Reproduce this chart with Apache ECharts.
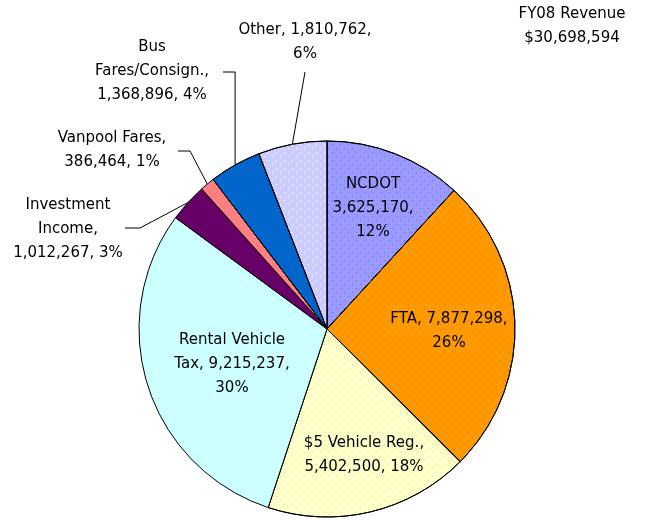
<!DOCTYPE html>
<html>
<head>
<meta charset="utf-8">
<script src="https://cdn.jsdelivr.net/npm/echarts@6/dist/echarts.min.js"></script>
<style>
html,body{margin:0;padding:0;background:#fff;}
#chart{width:660px;height:520px;}
</style>
</head>
<body>
<div id="chart"></div>
<script>
// ---- data ----
const categories = ['NCDOT', 'FTA', '$5 Vehicle Reg.', 'Rental Vehicle Tax', 'Investment Income', 'Vanpool Fares', 'Bus Fares/Consign.', 'Other'];
const values = [3625170, 7877298, 5402500, 9215237, 1012267, 386464, 1368896, 1810762];
const labelHeads = ['NCDOT\n', 'FTA, ', '$5 Vehicle Reg.,\n', 'Rental Vehicle\nTax, ', 'Investment\nIncome,\n', 'Vanpool Fares,\n', 'Bus\nFares/Consign.,\n', 'Other, '];
const labelSeps = [',\n', ',\n', ', ', ',\n', ', ', ', ', ', ', ',\n'];
const titleLines = ['FY08 Revenue', '$30,698,594'];

// ---- style ----
const colors = ['#9999FF', '#FF9900', '#FFFFCC', '#CCFFFF', '#660066', '#FF8080', '#0066CC', '#CCCCFF'];
const dotColors = ['#7070DD', '#E88A00', '#CCFF66', null, null, null, '#1D4F9A', '#FFFFFF'];
const outside = [false, false, false, false, true, true, true, true];
const labelPos = [[373, 208], [449, 331], [364, 455], [232, 364], [68, 229], [112, 150], [152, 71], [305, 42]];
// leader-line elbow / end points (label side), index by data
const leaderEnds = {4: [[140, 228], [125, 228]], 5: [[190, 151], [178, 151]], 6: [[null, 72], [223, 72]], 7: [[305, 72], [305, 72]]};

const CENTER = [327, 329], RADIUS = 188;
const fmt = v => v.toString().replace(/\B(?=(\d{3})+(?!\d))/g, ',');
const FONT = 'DejaVu Sans';
const total = values.reduce((a, b) => a + b, 0);

function edgePoint(i) {
  let cum = 0;
  for (let k = 0; k < i; k++) cum += values[k];
  const mid = (cum + values[i] / 2) / total * Math.PI * 2;
  return [CENTER[0] + RADIUS * Math.sin(mid), CENTER[1] - RADIUS * Math.cos(mid)];
}

const chart = echarts.init(document.getElementById('chart'), null, {renderer: 'canvas'});
chart.setOption({
  animation: false,
  backgroundColor: '#fff',
  title: {
    text: titleLines.join('\n'),
    left: 572, top: 2, padding: 0,
    textAlign: 'center',
    textStyle: {fontFamily: FONT, fontSize: 15, fontWeight: 'normal', color: '#000', lineHeight: 24}
  },
  series: [{
    type: 'pie',
    center: CENTER,
    radius: RADIUS,
    startAngle: 90,
    clockwise: true,
    avoidLabelOverlap: false,
    itemStyle: {borderColor: '#000', borderWidth: 1},
    label: {
      fontFamily: FONT, fontSize: 15, color: '#000', lineHeight: 24, align: 'center',
      formatter: p => labelHeads[p.dataIndex] + fmt(p.value) + labelSeps[p.dataIndex] + Math.round(p.percent) + '%'
    },
    labelLine: {lineStyle: {color: '#000', width: 1}},
    labelLayout: p => {
      const i = p.dataIndex;
      const out = {x: labelPos[i][0], y: labelPos[i][1], align: 'center', verticalAlign: 'middle'};
      if (leaderEnds[i]) {
        const p0 = (p.labelLinePoints && p.labelLinePoints[0]) ? p.labelLinePoints[0] : edgePoint(i);
        const e = leaderEnds[i];
        out.labelLinePoints = [[p0[0], p0[1]], [e[0][0] == null ? p0[0] : e[0][0], e[0][1]], e[1]];
      }
      return out;
    },
    data: categories.map((c, i) => ({
      name: c,
      value: values[i],
      itemStyle: dotColors[i] ? {
        color: colors[i],
        decal: {symbol: 'rect', symbolSize: 1, color: dotColors[i], dashArrayX: [[1, 7], [0, 4, 1, 3]], dashArrayY: [1, 3], rotation: 0}
      } : {color: colors[i]},
      label: {position: outside[i] ? 'outside' : 'inside'},
      labelLine: {show: outside[i]}
    }))
  }]
});
</script>
</body>
</html>
